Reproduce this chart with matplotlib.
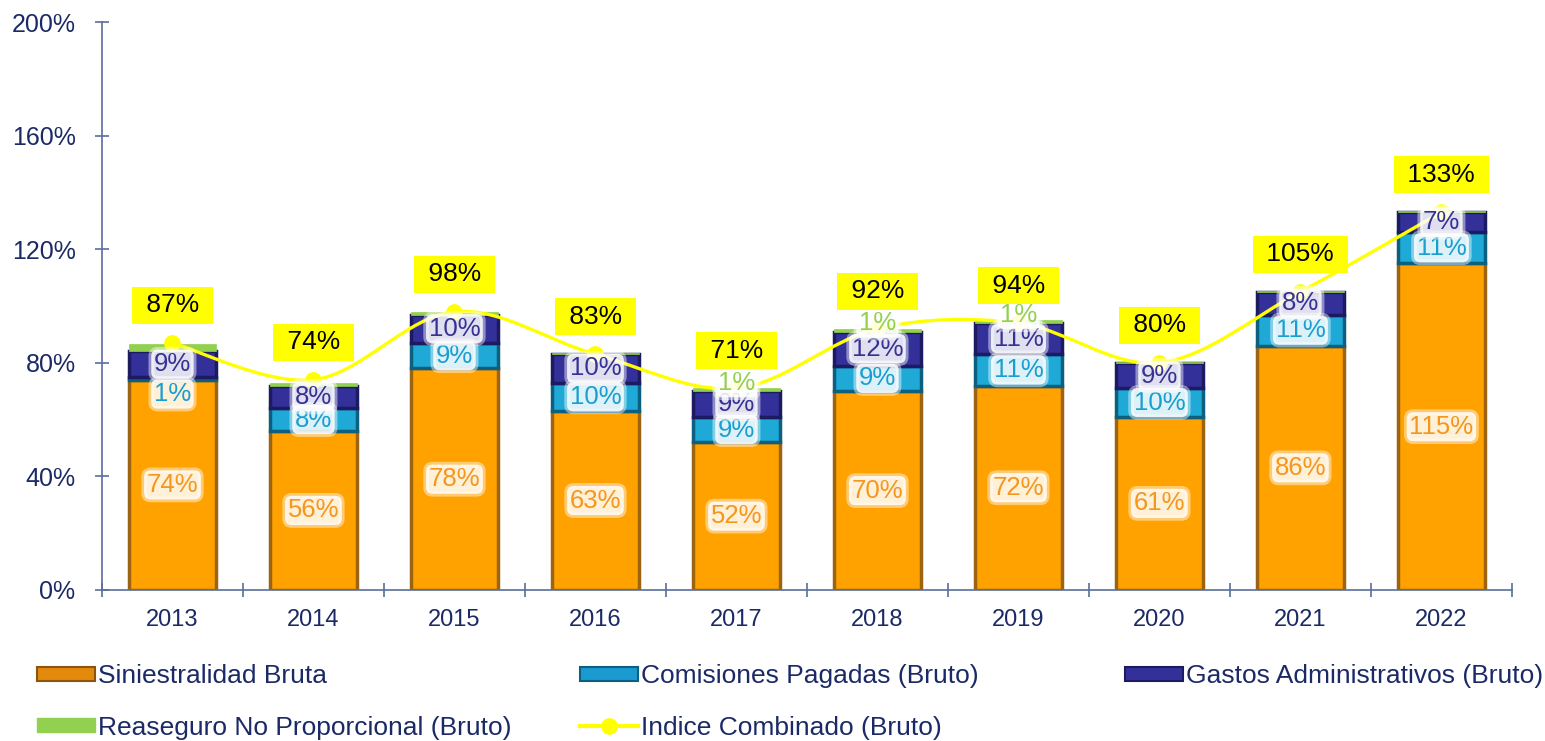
import numpy as np
import matplotlib
matplotlib.use("Agg")
import matplotlib.pyplot as plt
from matplotlib.path import Path
from matplotlib.patches import PathPatch, Patch
from matplotlib.lines import Line2D

plt.rcParams['font.family'] = ['Liberation Sans', 'DejaVu Sans']

years = ["2013", "2014", "2015", "2016", "2017", "2018", "2019", "2020", "2021", "2022"]
siniestralidad = [74, 56, 78, 63, 52, 70, 72, 61, 86, 115]
comisiones = [1, 8, 9, 10, 9, 9, 11, 10, 11, 11]
gastos = [9, 8, 10, 10, 9, 12, 11, 9, 8, 7]
reaseguro = [2.5, 0.8, 0.8, 0.3, 1, 1, 1, 0.3, 0.3, 0.3]
reaseguro_labels = ["", "", "", "", "1%", "1%", "1%", "", "", ""]
indice = [87, 74, 98, 83, 71, 92, 94, 80, 105, 133]

navy = "#1b2a66"
axis_col = "#5a6e9c"

fig = plt.figure(figsize=(15.45, 7.41), dpi=100)
ax = fig.add_axes([0.066, 0.2038, 0.9126, 0.7665])

x = np.arange(len(years))
w = 0.62
b1 = np.array(siniestralidad, float)
b2 = b1 + comisiones
b3 = b2 + gastos

ax.bar(x, siniestralidad, w, color="#ffa200", edgecolor="#9c6310", linewidth=2.5, zorder=2)
ax.bar(x, comisiones, w, bottom=b1, color="#1ea9d6", edgecolor="#0d5f80", linewidth=2.5, zorder=2)
ax.bar(x, gastos, w, bottom=b2, color="#34309a", edgecolor="#1c1a60", linewidth=2.5, zorder=2)
ax.bar(x, reaseguro, w, bottom=b3, color="#92d050", edgecolor="#92d050", linewidth=0.5, zorder=2)

# smooth line through the index values (Catmull-Rom as cubic Bezier)
pts = np.column_stack([x, indice]).astype(float)
ext = np.vstack([pts[0], pts, pts[-1]])
verts = [tuple(pts[0])]
codes = [Path.MOVETO]
for i in range(len(pts) - 1):
    p0, p1, p2, p3 = ext[i], ext[i + 1], ext[i + 2], ext[i + 3]
    c1 = p1 + (p2 - p0) / 6
    c2 = p2 - (p3 - p1) / 6
    verts += [tuple(c1), tuple(c2), tuple(p2)]
    codes += [Path.CURVE4] * 3
ax.add_patch(PathPatch(Path(verts, codes), facecolor="none", edgecolor="#ffff00",
                       linewidth=2.4, zorder=3))
ax.plot(x, indice, "o", color="#ffff00", markersize=11, zorder=3)

# labels sit on a soft white patch
halo = dict(boxstyle="round,pad=0.1,rounding_size=0.25", facecolor=(1, 1, 1, 0.85),
            edgecolor=(1, 1, 1, 0.45), linewidth=4)
lab_kw = dict(ha="center", va="center", fontsize=18.5, zorder=5, bbox=halo)
for i in x:
    ax.text(i, siniestralidad[i] / 2, f"{siniestralidad[i]}%", color="#f5961e", **lab_kw)
    yc = b1[i] + comisiones[i] / 2
    if comisiones[i] < 3:
        yc = b1[i] - 5
    ax.text(i, yc, f"{comisiones[i]}%", color="#1a9ed0", **lab_kw)
    ax.text(i, b2[i] + gastos[i] / 2, f"{gastos[i]}%", color="#363194", **lab_kw)
    if reaseguro_labels[i]:
        ax.text(i, b3[i] + reaseguro[i] + 2, reaseguro_labels[i], color="#92d050", **lab_kw)
    ax.annotate(f" {indice[i]}% ", (i, indice[i]), xytext=(0, 27), textcoords="offset points",
                ha="center", va="center", fontsize=19, color="black", zorder=6,
                bbox=dict(boxstyle="square,pad=0.25", facecolor="#ffff00", edgecolor="none"))

ax.set_xlim(-0.5, len(years) - 0.5)
ax.set_ylim(0, 200)
ax.set_yticks(np.arange(0, 201, 40))
ax.set_yticklabels([f"{v}%" for v in range(0, 201, 40)])
ax.set_xticks(np.arange(-0.5, len(years), 1.0))
ax.set_xticklabels([])
ax.set_xticks(x, minor=True)
ax.set_xticklabels(years, minor=True)
ax.tick_params(axis="x", which="minor", length=0, pad=14, labelsize=17, labelcolor=navy)
ax.tick_params(axis="x", which="major", direction="inout", length=10, color=axis_col, width=1.2)
ax.tick_params(axis="y", direction="inout", length=10, color=axis_col, width=1.2,
               pad=14, labelsize=18, labelcolor=navy)
for s in ["top", "right"]:
    ax.spines[s].set_visible(False)
for s in ["left", "bottom"]:
    ax.spines[s].set_color(axis_col)
    ax.spines[s].set_linewidth(1.2)

h_sin = Patch(facecolor="#e38a0c", edgecolor="#8a5510", linewidth=1.5)
h_com = Patch(facecolor="#1a9ad0", edgecolor="#0d5f80", linewidth=1.5)
h_gas = Patch(facecolor="#34309a", edgecolor="#1c1a60", linewidth=1.5)
h_rea = Patch(facecolor="#92d050", edgecolor="#92d050")
h_ind = Line2D([], [], color="#ffff00", linewidth=3, marker="o", markersize=11)

leg_kw = dict(frameon=False, fontsize=19, labelcolor=navy, loc="upper left",
              handlelength=2.2, handleheight=0.45, handletextpad=0.1, labelspacing=1.05,
              borderaxespad=0, borderpad=0)
cols = [([h_sin, h_rea], ["Siniestralidad Bruta", "Reaseguro No Proporcional (Bruto)"], 37),
        ([h_com, h_ind], ["Comisiones Pagadas (Bruto)", "Indice Combinado (Bruto)"], 580),
        ([h_gas], ["Gastos Administrativos (Bruto)"], 1125)]
for hs, ls, px in cols:
    fig.legend(hs, ls, bbox_to_anchor=(px / 1545, 1 - 664 / 741), **leg_kw)

fig.savefig("out.png", dpi=100)
